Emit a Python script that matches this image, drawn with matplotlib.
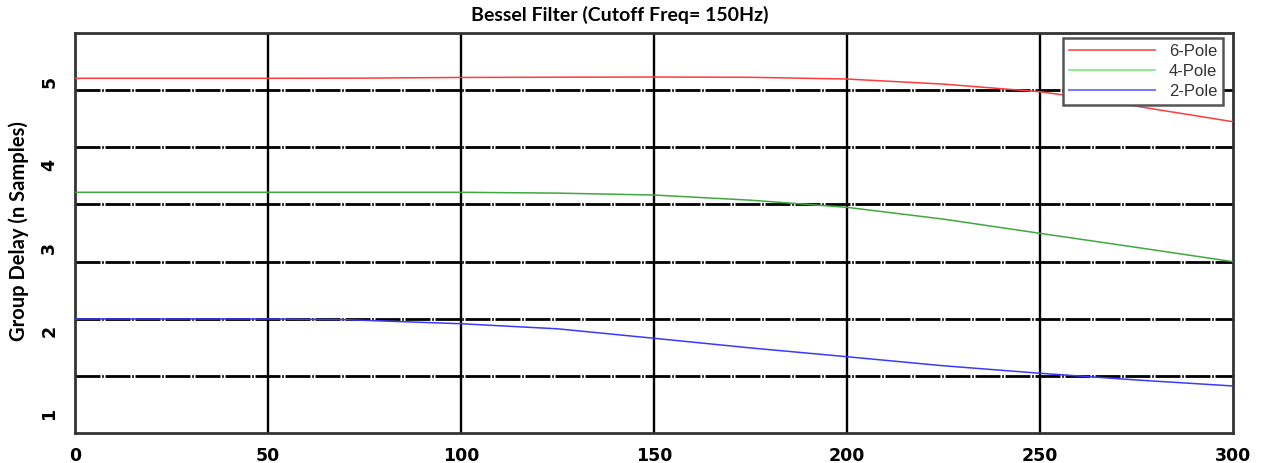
import matplotlib
matplotlib.use("Agg")
import matplotlib.pyplot as plt
from matplotlib.lines import Line2D

# frequency axis (Hz)
freq_6 = [0, 25, 50, 75, 100, 125, 150, 175, 200, 225, 250, 260, 270, 280, 290, 300]
delay_6 = [5.045, 5.045, 5.045, 5.047, 5.055, 5.058, 5.060, 5.057, 5.036, 4.975,
           4.883, 4.820, 4.747, 4.671, 4.597, 4.522]

freq_4 = [0, 50, 100, 125, 150, 175, 200, 225, 250, 275, 300]
delay_4 = [3.673, 3.673, 3.673, 3.663, 3.640, 3.578, 3.492, 3.350, 3.179, 3.010, 2.838]

freq_2 = [0, 50, 70, 100, 125, 150, 175, 200, 225, 250, 275, 300]
delay_2 = [2.148, 2.148, 2.140, 2.091, 2.030, 1.916, 1.800, 1.694, 1.585, 1.495, 1.414, 1.342]

labels = ["6-Pole", "4-Pole", "2-Pole"]
x_ticks = [0, 50, 100, 150, 200, 250, 300]
y_ticks = [1, 2, 3, 4, 5]
# dashed horizontal grid (not aligned with tick labels in the original)
h_grid = [1.462, 2.148, 2.834, 3.532, 4.218, 4.904]

plt.rcParams["lines.scale_dashes"] = False

fig = plt.figure(figsize=(12.62, 4.63), dpi=100)
ax = fig.add_axes([75 / 1262, 1 - 433 / 463, 1158 / 1262, 400 / 463])

# grid first so the curves sit on top
for x in x_ticks[1:-1]:
    ax.axvline(x, color="black", lw=1.7, zorder=1)
for y in h_grid:
    ax.axhline(y, color="black", lw=2.0, linestyle=(0, (18, 1.2, 1.2, 1.2)), zorder=1)

ax.plot(freq_6, delay_6, color="#ff3b3b", lw=1.1, zorder=3)
ax.plot(freq_4, delay_4, color="#3fa83f", lw=1.1, zorder=3)
ax.plot(freq_2, delay_2, color="#3a3aff", lw=1.1, zorder=3)

ax.set_xlim(0, 300)
ax.set_ylim(0.776, 5.590)
ax.set_xticks(x_ticks)
ax.set_yticks(y_ticks)
ax.set_xticklabels([str(v) for v in x_ticks], fontweight="bold", fontsize=12.5)
ax.set_yticklabels([str(v) for v in y_ticks], fontweight="bold", fontsize=12.5,
                   rotation=90, va="center")
ax.tick_params(length=0)
ax.tick_params(axis="x", pad=10)
ax.tick_params(axis="y", pad=12)

for s in ax.spines.values():
    s.set_color("#333333")
    s.set_linewidth(2)

ax.set_ylabel("Group Delay (n Samples)", family="Lato", fontweight="bold",
              fontsize=14.5)
ax.yaxis.set_label_coords(-46 / 1158, 0.505)
fig.text(620 / 1262, 1 - 15 / 463, "Bessel Filter (Cutoff Freq= 150Hz)",
         family="Lato", fontweight="bold", fontsize=14, ha="center", va="center")

handles = [Line2D([], [], color=c, lw=1.3) for c in ["#ff5a5a", "#80f080", "#6a6aff"]]
leg = ax.legend(handles, labels, loc="upper right",
                bbox_to_anchor=(1223 / 1262, 1 - 38 / 463),
                bbox_transform=fig.transFigure, borderaxespad=0,
                fancybox=False, framealpha=1, handlelength=5.2,
                labelspacing=0.3, borderpad=0.35,
                prop={"family": "Liberation Sans", "size": 12})
leg.get_frame().set_edgecolor("#555555")
leg.get_frame().set_linewidth(1.8)
for t in leg.get_texts():
    t.set_ha("right")
    t.set_color("#333333")

fig.savefig("out.png", dpi=100)
